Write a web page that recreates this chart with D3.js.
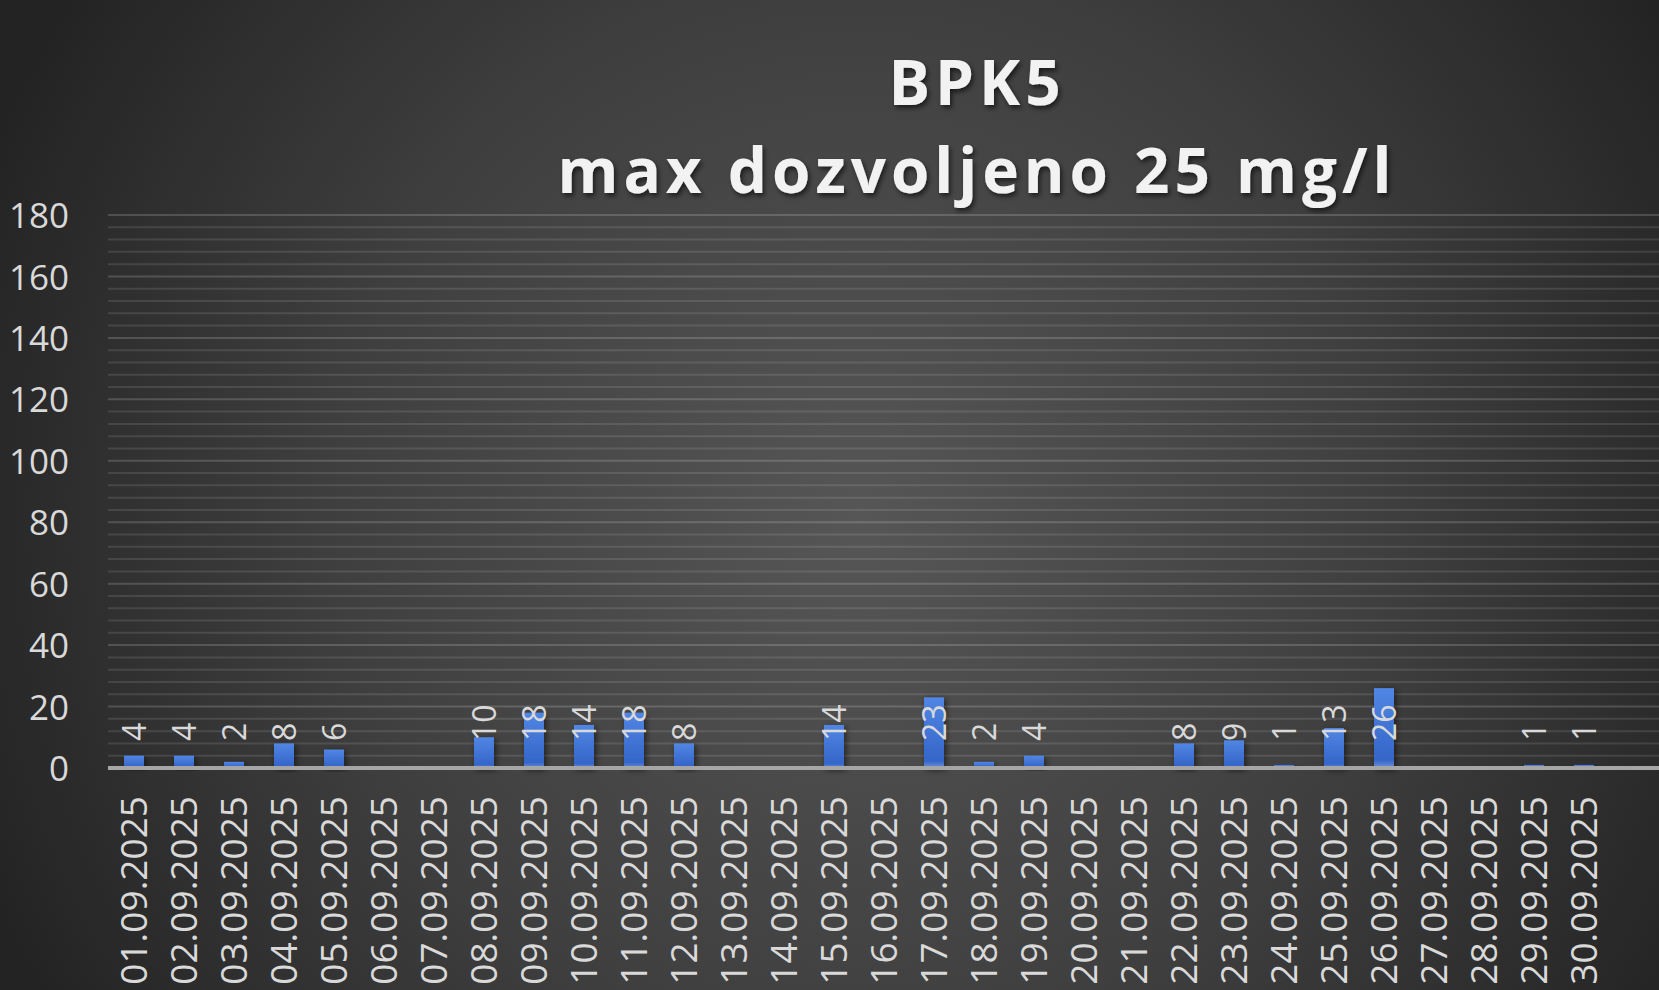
<!DOCTYPE html>
<html>
<head>
<meta charset="utf-8">
<script src="https://cdn.jsdelivr.net/npm/d3@7/dist/d3.min.js"></script>
<style>
  html, body { margin: 0; padding: 0; background: #2a2a2a; overflow: hidden; }
  svg { display: block; }
</style>
</head>
<body>
<svg id="chart" width="1659" height="990"></svg>
<script>
// ---- data ----
const titleLines = ["BPK5", "max dozvoljeno 25 mg/l"];
const categories = ["01.09.2025","02.09.2025","03.09.2025","04.09.2025","05.09.2025","06.09.2025","07.09.2025","08.09.2025","09.09.2025","10.09.2025","11.09.2025","12.09.2025","13.09.2025","14.09.2025","15.09.2025","16.09.2025","17.09.2025","18.09.2025","19.09.2025","20.09.2025","21.09.2025","22.09.2025","23.09.2025","24.09.2025","25.09.2025","26.09.2025","27.09.2025","28.09.2025","29.09.2025","30.09.2025"];
const values = [4,4,2,8,6,null,null,10,18,14,18,8,null,null,14,null,23,2,4,null,null,8,9,1,13,26,null,null,1,1];
const yTicks = [0,20,40,60,80,100,120,140,160,180];
const yMinorStep = 4;
const yMax = 180;

// ---- layout ----
const W = 1659, H = 990;
const plot = { left: 109, right: 1609, top: 215, bottom: 768, gridRight: 1659 };

const svg = d3.select("#chart");
const defs = svg.append("defs");

// background radial gradient
const bg = defs.append("radialGradient").attr("id", "bg")
  .attr("gradientUnits", "userSpaceOnUse")
  .attr("cx", 860).attr("cy", 520).attr("r", 950);
bg.append("stop").attr("offset", "0%").attr("stop-color", "#565656");
bg.append("stop").attr("offset", "55%").attr("stop-color", "#3f3f3f");
bg.append("stop").attr("offset", "100%").attr("stop-color", "#232323");
svg.append("rect").attr("width", W).attr("height", H).attr("fill", "url(#bg)");

// bar gradient
const bgr = defs.append("linearGradient").attr("id", "barGrad")
  .attr("x1", 0).attr("y1", 0).attr("x2", 0).attr("y2", 1);
bgr.append("stop").attr("offset", "0%").attr("stop-color", "#5186e4");
bgr.append("stop").attr("offset", "90%").attr("stop-color", "#3466c8");
bgr.append("stop").attr("offset", "100%").attr("stop-color", "#6f92d6");

// shadows
const sh = defs.append("filter").attr("id", "shadow").attr("x", "-20%").attr("y", "-20%").attr("width", "140%").attr("height", "160%");
sh.append("feDropShadow").attr("dx", 2).attr("dy", 3).attr("stdDeviation", 2.5).attr("flood-color", "#000").attr("flood-opacity", 0.6);
const bsh = defs.append("filter").attr("id", "barShadow").attr("x", "-50%").attr("y", "-20%").attr("width", "200%").attr("height", "140%");
bsh.append("feDropShadow").attr("dx", 2).attr("dy", 2).attr("stdDeviation", 3).attr("flood-color", "#000").attr("flood-opacity", 0.55);

// scales
const x = d3.scaleBand().domain(categories).range([plot.left, plot.right]).paddingInner(0.6).paddingOuter(0.3);
const y = d3.scaleLinear().domain([0, yMax]).range([plot.bottom, plot.top]);

// minor + major gridlines
const gridVals = d3.range(yMinorStep, yMax + 0.001, yMinorStep);
svg.append("g").selectAll("line").data(gridVals).join("line")
  .attr("x1", plot.left - 1).attr("x2", plot.gridRight)
  .attr("y1", d => y(d)).attr("y2", d => y(d))
  .attr("stroke", d => d % 20 === 0 ? "rgba(255,255,255,0.17)" : "rgba(255,255,255,0.11)")
  .attr("stroke-width", 2);

// y axis labels
const yAxis = d3.axisLeft(y).tickValues(yTicks).tickSize(0).tickPadding(0);
const yg = svg.append("g").attr("transform", `translate(69,0)`).call(yAxis);
yg.select(".domain").remove();
yg.selectAll("text")
  .attr("font-family", "'Open Sans', sans-serif")
  .attr("font-size", 35)
  .attr("fill", "#d9d9d9")
  .attr("dy", "0.36em")
  .attr("x", 0)
  .attr("text-anchor", "end");

// bars
svg.append("g").selectAll("rect").data(categories.map((c, i) => ({ c, v: values[i] })).filter(d => d.v !== null))
  .join("rect")
  .attr("x", d => x(d.c))
  .attr("width", x.bandwidth())
  .attr("y", d => y(d.v))
  .attr("height", d => y(0) - y(d.v))
  .attr("fill", "url(#barGrad)")
  .attr("filter", "url(#barShadow)");

// x axis line
svg.append("line")
  .attr("x1", plot.left - 1).attr("x2", plot.gridRight)
  .attr("y1", y(0)).attr("y2", y(0))
  .attr("stroke", "#a6a6a6").attr("stroke-width", 4);

// data labels (rotated)
const labelBase = y(0) - 27;
svg.append("g").selectAll("text").data(categories.map((c, i) => ({ c, v: values[i] })).filter(d => d.v !== null))
  .join("text")
  .attr("transform", d => `translate(${x(d.c) + x.bandwidth() / 2},${labelBase}) rotate(-90)`)
  .attr("dy", "0.36em")
  .attr("text-anchor", "start")
  .attr("font-family", "'Open Sans', sans-serif")
  .attr("font-size", 32)
  .attr("fill", "#d9d9d9")
  .text(d => d.v);

// x axis category labels
const xAxis = d3.axisBottom(x).tickSize(0).tickPadding(0);
const xg = svg.append("g").attr("transform", `translate(0,${y(0)})`).call(xAxis);
xg.select(".domain").remove();
xg.selectAll("text")
  .attr("font-family", "'Open Sans', sans-serif")
  .attr("font-size", 37)
  .attr("fill", "#d9d9d9")
  .attr("text-anchor", "end")
  .attr("transform", "translate(0,28) rotate(-90)")
  .attr("x", 0).attr("y", 0)
  .attr("dy", "0.36em");

// title
const tg = svg.append("g").attr("filter", "url(#shadow)");
tg.selectAll("text").data(titleLines).join("text")
  .attr("x", 977)
  .attr("y", (d, i) => i === 0 ? 105 : 193)
  .attr("text-anchor", "middle")
  .attr("font-family", "'Open Sans', sans-serif")
  .attr("font-weight", 700)
  .attr("font-size", 62)
  .attr("letter-spacing", 5)
  .attr("fill", "#f2f2f2")
  .text(d => d);
</script>
</body>
</html>
